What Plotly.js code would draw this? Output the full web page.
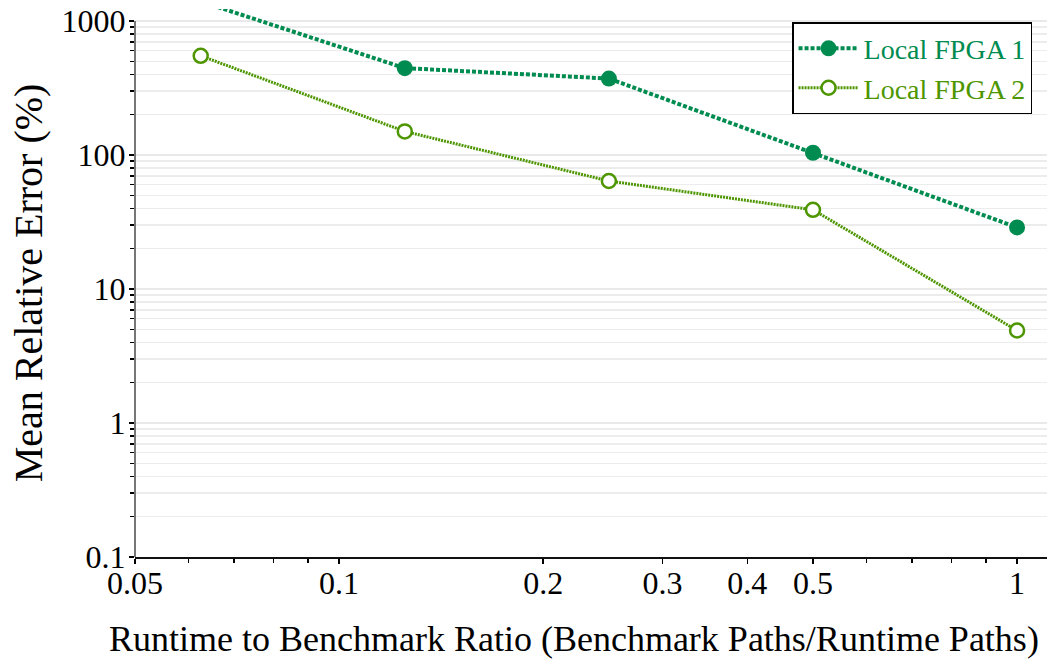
<!DOCTYPE html>
<html>
<head>
<meta charset="utf-8">
<script src="https://cdn.plot.ly/plotly-3.0.1.min.js"></script>
<style>html,body{margin:0;padding:0;background:#fff;}#chart{width:1047px;height:660px;}</style>
</head>
<body>
<div id="chart"></div>
<script>
// Data
var ratios = [0.0625, 0.125, 0.25, 0.5, 1];
var fpga1 = [1400, 445, 372, 104, 28.8];
var fpga2 = [550, 150, 64, 39, 4.9];
var seriesNames = ['Local FPGA 1', 'Local FPGA 2'];
var xTickVals = [0.05, 0.1, 0.2, 0.3, 0.4, 0.5, 1];
var xTickText = ['0.05', '0.1', '0.2', '0.3', '0.4', '0.5', '1'];
var xMinorVals = [0.06, 0.07, 0.08, 0.09, 0.6, 0.7, 0.8, 0.9];
var yTickVals = [0.1, 1, 10, 100, 1000];
var yTickText = ['0.1', '1', '10', '100', '1000'];
var xTitle = 'Runtime to Benchmark Ratio (Benchmark Paths/Runtime Paths)';
var yTitle = 'Mean Relative Error (%)';

var c1 = '#008c50';
var c2 = '#4e9600';

var yMinor = [];
[0.1, 1, 10, 100].forEach(function (d) { for (var k = 2; k <= 9; k++) yMinor.push(d * k); });

var traces = [
  {
    x: ratios, y: fpga1, name: seriesNames[0], type: 'scatter', mode: 'lines+markers',
    line: {color: c1, width: 4, dash: '4px,2px'},
    marker: {color: c1, size: 16, symbol: 'circle'},
    cliponaxis: false
  },
  {
    x: ratios, y: fpga2, name: seriesNames[1], type: 'scatter', mode: 'lines+markers',
    line: {color: c2, width: 3, dash: '2px,1px'},
    marker: {color: '#ffffff', size: 14, symbol: 'circle', line: {color: c2, width: 2.5}},
    cliponaxis: false
  }
];

var font = 'Liberation Serif, Times New Roman, serif';
var layout = {
  width: 1047, height: 660,
  margin: {l: 135, r: 0, t: 9, b: 103},
  paper_bgcolor: '#fff', plot_bgcolor: '#fff',
  font: {family: font, color: '#000'},
  showlegend: true,
  legend: {
    x: 0.9836, xanchor: 'right', y: 0.976, yanchor: 'top',
    bordercolor: '#000', borderwidth: 1.5, bgcolor: '#fff',
    font: {family: font, size: 28},
    itemwidth: 60,
    tracegroupgap: 0
  },
  shapes: [{
    type: 'line', xref: 'paper', yref: 'y', x0: 0, x1: 0, y0: 0.1, y1: 1000,
    line: {color: '#777', width: 2}, layer: 'above'
  }],
  annotations: [{
    text: xTitle, xref: 'paper', yref: 'paper', x: 0.481, y: -0.149,
    xanchor: 'center', yanchor: 'middle', showarrow: false,
    font: {family: font, size: 36, color: '#000'}
  }],
  xaxis: {
    type: 'log',
    range: [Math.log10(0.05), Math.log10(1.107)],
    tickmode: 'array', tickvals: xTickVals, ticktext: xTickText,
    ticks: 'outside', ticklen: 5, tickwidth: 1.5, tickcolor: '#000',
    ticklabelstandoff: -8,
    showline: true, linecolor: '#111', linewidth: 1.5,
    showgrid: false, zeroline: false,
    tickfont: {family: font, size: 32, color: '#000'},
    minor: {tickmode: 'array', tickvals: xMinorVals, ticks: 'outside', ticklen: 4, tickcolor: '#000', showgrid: false}
  },
  yaxis: {
    type: 'log',
    range: [-1, 3.0896],
    tickmode: 'array', tickvals: yTickVals, ticktext: yTickText,
    ticks: 'outside', ticklen: 5, tickwidth: 1.5, tickcolor: '#000',
    ticklabelstandoff: -3,
    showline: false,
    showgrid: true, gridcolor: '#e9e9e9', gridwidth: 1.5, zeroline: false,
    tickfont: {family: font, size: 32, color: '#000'},
    minor: {tickmode: 'array', tickvals: yMinor, ticks: 'outside', ticklen: 4, tickcolor: '#000', showgrid: true, gridcolor: '#ececec', gridwidth: 1.5},
    title: {text: yTitle, font: {family: font, size: 40, color: '#000'}, standoff: 6}
  }
};

Plotly.newPlot('chart', traces, layout, {displayModeBar: false, staticPlot: true}).then(function (gd) {
  // colour legend texts like their series
  var texts = gd.querySelectorAll('.legend .legendtext');
  if (texts[0]) texts[0].style.fill = c1;
  if (texts[1]) texts[1].style.fill = c2;
});
</script>
</body>
</html>
